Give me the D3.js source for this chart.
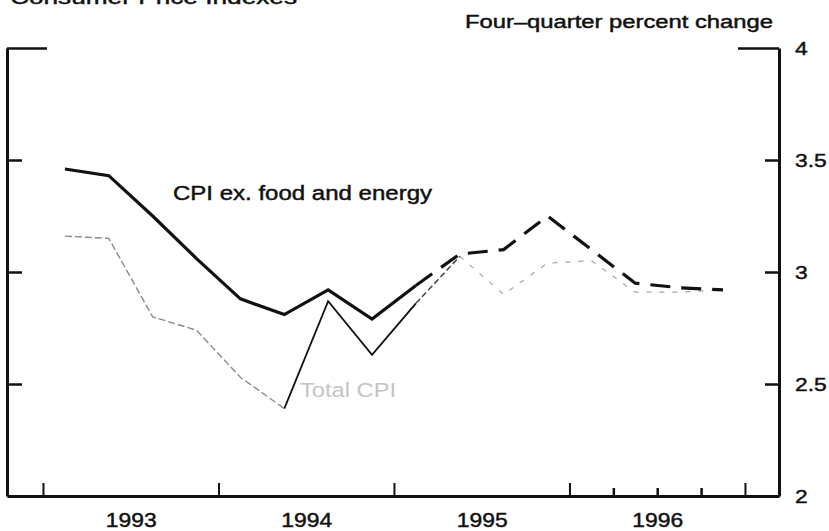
<!DOCTYPE html>
<html><head><meta charset="utf-8">
<script src="https://cdn.jsdelivr.net/npm/d3@7"></script>
<style>
html,body{margin:0;padding:0;background:#fff;}
svg{display:block;}
text{font-family:"Liberation Sans",Arial,Helvetica,sans-serif;fill:#111;}
text.ink{stroke:#111;stroke-width:0.45px;}
</style></head>
<body>
<svg id="chart" width="829" height="531"></svg>
<script>
// ---- data ----
const quarters = ["1993Q1","1993Q2","1993Q3","1993Q4","1994Q1","1994Q2","1994Q3","1994Q4",
                  "1995Q1","1995Q2","1995Q3","1995Q4","1996Q1","1996Q2","1996Q3","1996Q4"];
const cpiExFood = [3.46,3.43,3.25,3.06,2.88,2.81,2.92,2.79,2.94,3.08,3.10,3.25,3.10,2.95,2.93,2.92];
const totalCPI  = [3.16,3.15,2.80,2.74,2.53,2.39,2.87,2.63,2.86,3.07,2.90,3.04,3.05,2.91,2.91,2.92];
const years = [1993,1994,1995,1996];
const yearLabels = ["1993","1994","1995","1996"];
const yTicks = [2,2.5,3,3.5,4];
const yTickLabels = ["2","2.5","3","3.5","4"];
const quarterTicks1996 = [1996.25,1996.5,1996.75];
const titleText = "Consumer Price Indexes";
const unitText = "Four\u2013quarter percent change";
const seriesLabels = ["CPI ex. food and energy","Total CPI"];

// ---- scales ----
const svg = d3.select("#chart");
const x = d3.scaleLinear().domain([1992.795, 1997.194]).range([7, 779]);
const y = d3.scaleLinear().domain([2, 4]).range([496, 48]);
const qx = q => { const yr = +q.slice(0,4), n = +q.slice(5); return x(yr + (n - 0.5) / 4); };

function stretch(sel, factor){
  sel.each(function(){ const w = this.getComputedTextLength(); d3.select(this).attr("textLength", w*factor).attr("lengthAdjust","spacingAndGlyphs"); });
}

// ---- axes ----
const axW = 3;
// right axis
const gR = svg.append("g").attr("transform","translate(779,0)")
  .call(d3.axisRight(y).tickValues(yTicks).tickFormat((d,i)=>yTickLabels[i]).tickSizeInner(-14).tickSizeOuter(0).tickPadding(16));
gR.select(".domain").attr("stroke","#111").attr("stroke-width",axW);
gR.selectAll(".tick line").attr("stroke","#111").attr("stroke-width",2.5)
  .attr("x2", d => d===4 ? -41 : (d===2 ? 0 : -14));
gR.selectAll(".tick text").attr("class","ink").style("font-size","19px").attr("fill","#111").attr("dy","0.36em");
stretch(gR.selectAll(".tick text"), 1.2);

// left axis
const gL = svg.append("g").attr("transform","translate(7,0)")
  .call(d3.axisLeft(y).tickValues(yTicks).tickFormat("").tickSizeInner(-15).tickSizeOuter(0));
gL.select(".domain").attr("stroke","#111").attr("stroke-width",axW);
gL.selectAll(".tick line").attr("stroke","#111").attr("stroke-width",2.5)
  .attr("x2", d => d===4 ? 40 : (d===2 ? 0 : 15));

// bottom axis: year ticks
const gB = svg.append("g").attr("transform","translate(0,496)")
  .call(d3.axisBottom(x).tickValues(years.concat([1997])).tickFormat("").tickSizeInner(-13).tickSizeOuter(0));
gB.select(".domain").attr("stroke","#111").attr("stroke-width",axW);
gB.selectAll(".tick line").attr("stroke","#111").attr("stroke-width",2);
// quarter ticks in 1996
const gQ = svg.append("g").attr("transform","translate(0,496)")
  .call(d3.axisBottom(x).tickValues(quarterTicks1996).tickFormat("").tickSizeInner(-8).tickSizeOuter(0));
gQ.select(".domain").remove();
gQ.selectAll(".tick line").attr("stroke","#111").attr("stroke-width",2.5);
// year labels
const gY = svg.append("g").attr("transform","translate(0,496)")
  .call(d3.axisBottom(x).tickValues(years.map(v=>v+0.5)).tickFormat((d,i)=>yearLabels[i]).tickSize(0).tickPadding(16));
gY.select(".domain").remove();
gY.selectAll(".tick text").attr("class","ink").style("font-size","21px").attr("fill","#111").attr("dy","0.71em");
stretch(gY.selectAll(".tick text"), 1.09);

// ---- lines ----
const line = d3.line().x(d=>qx(d.q)).y(d=>y(d.v));
const ex = quarters.map((q,i)=>({q, v:cpiExFood[i]}));
const tot = quarters.map((q,i)=>({q, v:totalCPI[i]}));

// total CPI (thin, faded scan look)
svg.append("path").attr("d", line(tot.slice(0,6))).attr("fill","none")
  .attr("stroke","#8a8a8a").attr("stroke-width",1.4).attr("stroke-dasharray","7,3");
svg.append("path").attr("d", line(tot.slice(5,9))).attr("fill","none")
  .attr("stroke","#111").attr("stroke-width",1.8).attr("stroke-linejoin","miter");
svg.append("path").attr("d", line(tot.slice(8,10))).attr("fill","none")
  .attr("stroke","#444").attr("stroke-width",1.5).attr("stroke-dasharray","6,3");
svg.append("path").attr("d", line(tot.slice(9))).attr("fill","none")
  .attr("stroke","#a5a5a5").attr("stroke-width",1.2).attr("stroke-dasharray","5,8");

// CPI ex food and energy
svg.append("path").attr("d", line(ex.slice(0,9))).attr("fill","none")
  .attr("stroke","#111").attr("stroke-width",3.2).attr("stroke-linejoin","miter");
svg.append("path").attr("d", line(ex.slice(8))).attr("fill","none")
  .attr("stroke","#111").attr("stroke-width",3.2).attr("stroke-dasharray","20,11");

// ---- texts ----
const t1 = svg.append("text").attr("class","ink").attr("x",10).attr("y",4).style("font-size","20px").text(titleText);
t1.attr("textLength",287).attr("lengthAdjust","spacingAndGlyphs");
const t2 = svg.append("text").attr("class","ink").attr("x",465).attr("y",28).style("font-size","18px").text(unitText);
t2.attr("textLength",308).attr("lengthAdjust","spacingAndGlyphs");
const l1 = svg.append("text").attr("class","ink").attr("x",173).attr("y",200).style("font-size","20px").text(seriesLabels[0]);
l1.attr("textLength",259).attr("lengthAdjust","spacingAndGlyphs");
const l2 = svg.append("text").attr("x",300).attr("y",397).style("font-size","20px").style("fill","#c4c4c4").text(seriesLabels[1]);
l2.attr("textLength",96).attr("lengthAdjust","spacingAndGlyphs");
</script>
</body></html>
